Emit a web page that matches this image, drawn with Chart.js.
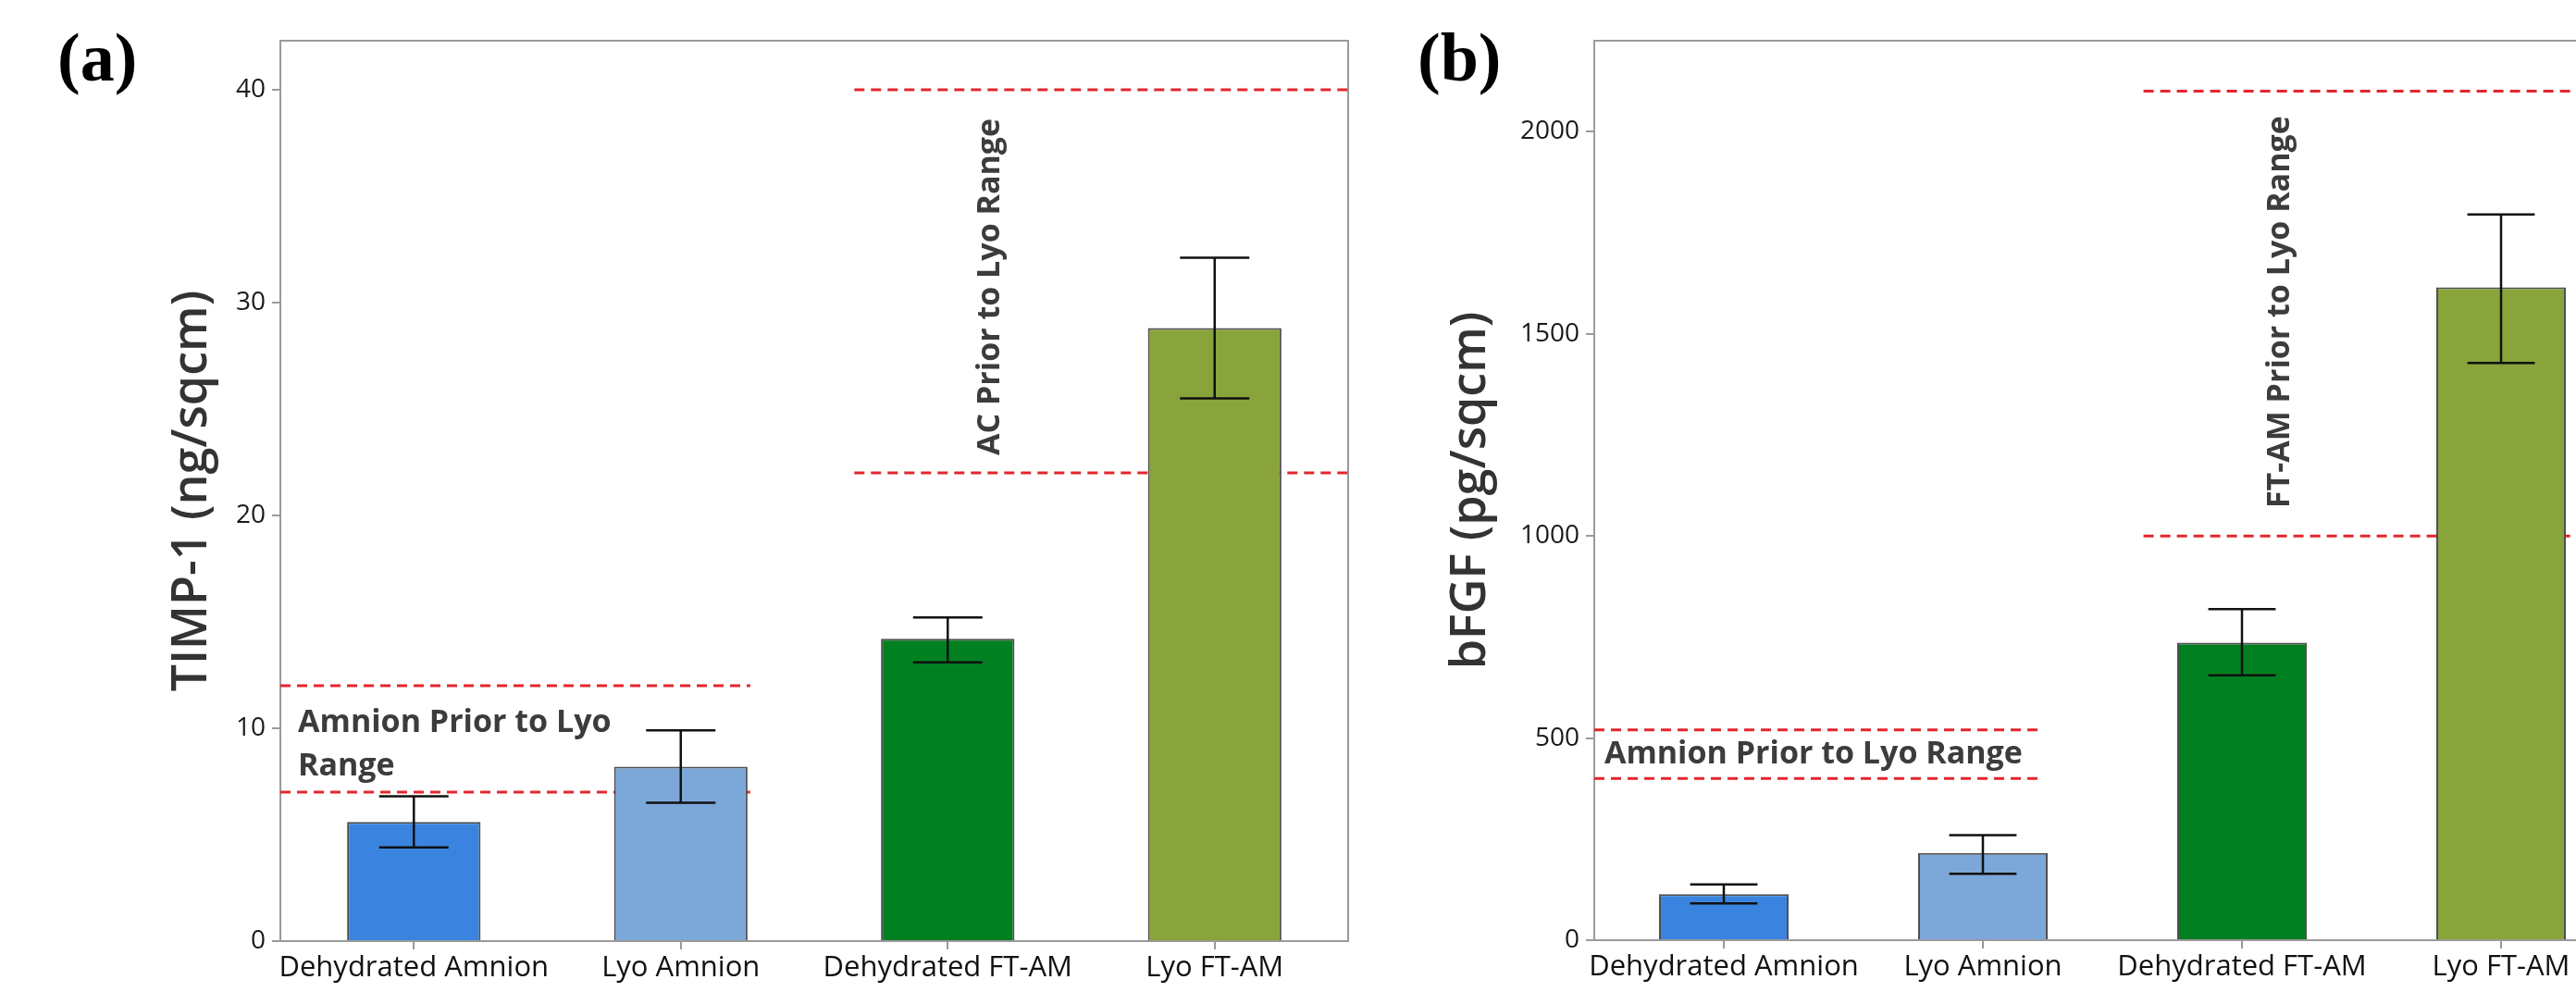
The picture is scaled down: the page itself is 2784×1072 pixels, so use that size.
<!DOCTYPE html>
<html>
<head>
<meta charset="utf-8">
<script src="https://cdn.jsdelivr.net/npm/chart.js@4.4.1/dist/chart.umd.min.js"></script>
<style>
  html, body { margin: 0; padding: 0; background: #fff; overflow: hidden; width: 2784px; height: 1072px; }
  canvas { position: absolute; top: 0; }
  #chartA { left: 0; }
  #chartB { left: 1500px; }
  .panel { position: absolute; font-family: 'Liberation Serif', 'Times New Roman', serif; font-weight: bold; font-size: 74px; line-height: 74px; color: #000; }
</style>
</head>
<body>
<div class="panel" style="left:62px; top:25px;">(a)</div>
<div class="panel" style="left:1532px; top:25px;">(b)</div>
<canvas id="chartA" width="1480" height="1072"></canvas>
<canvas id="chartB" width="1400" height="1072"></canvas>
<script>
// ── Data ──
const CATEGORIES = ['Dehydrated Amnion', 'Lyo Amnion', 'Dehydrated FT-AM', 'Lyo FT-AM'];
const BAR_COLORS = ['#3a84e0', '#7ca7d9', '#008020', '#88a43a'];

// (a) TIMP-1, ng/sqcm
const TIMP_MEAN = [5.6, 8.2, 14.2, 28.8];
const TIMP_LOW = [4.4, 6.5, 13.1, 25.5];
const TIMP_HIGH = [6.8, 9.9, 15.2, 32.1];
const TIMP_TICKS = [0, 10, 20, 30, 40];
const TIMP_AMNION_RANGE = [7, 12];
const TIMP_AC_RANGE = [22, 40];

// (b) bFGF, pg/sqcm
const BFGF_MEAN = [114, 216, 736, 1615];
const BFGF_LOW = [91, 164, 655, 1428];
const BFGF_HIGH = [138, 260, 819, 1795];
const BFGF_TICKS = [0, 500, 1000, 1500, 2000];
const BFGF_AMNION_RANGE = [400, 520];
const BFGF_FTAM_RANGE = [1000, 2100];

const AXIS_GREY = '#9a9a9a';
const RANGE_RED = '#e3262d';
const FONT = "'Open Sans', 'Noto Sans', sans-serif";

// ── Plugins ──
const framePlugin = {
  id: 'frame',
  beforeDatasetsDraw(chart) {
    const { ctx, chartArea: { left, top, right, bottom } } = chart;
    ctx.save();
    ctx.strokeStyle = AXIS_GREY;
    ctx.lineWidth = 2;
    ctx.strokeRect(left, top, right - left, bottom - top);
    ctx.restore();
  },
};

const errorBarPlugin = {
  id: 'errorBars',
  afterDatasetsDraw(chart, args, opts) {
    const { ctx } = chart;
    const meta = chart.getDatasetMeta(0);
    const y = chart.scales.y;
    ctx.save();
    ctx.strokeStyle = '#111';
    ctx.lineWidth = 2.5;
    meta.data.forEach((bar, i) => {
      const half = bar.width * opts.cap / 2;
      const yl = y.getPixelForValue(opts.low[i]);
      const yh = y.getPixelForValue(opts.high[i]);
      ctx.beginPath();
      ctx.moveTo(bar.x, yl); ctx.lineTo(bar.x, yh);
      ctx.moveTo(bar.x - half, yl); ctx.lineTo(bar.x + half, yl);
      ctx.moveTo(bar.x - half, yh); ctx.lineTo(bar.x + half, yh);
      ctx.stroke();
    });
    ctx.restore();
  },
};

const rangeLabelPlugin = {
  id: 'rangeLabels',
  afterDatasetsDraw(chart, args, opts) {
    const { ctx } = chart;
    for (const a of opts.items) {
      const x = chart.scales.xr.getPixelForValue(a.x);
      const y = chart.scales.y.getPixelForValue(a.y);
      ctx.save();
      ctx.translate(x, y);
      if (a.vertical) ctx.rotate(-Math.PI / 2);
      ctx.font = `bold 34px ${FONT}`;
      ctx.fillStyle = '#3c3c3c';
      ctx.textAlign = a.align;
      ctx.textBaseline = 'middle';
      a.lines.forEach((t, k) => ctx.fillText(t, 0, k * 47));
      ctx.restore();
    }
  },
};

// ── Helpers ──
function rangeLine(y, x0, x1) {
  return {
    type: 'line', xAxisID: 'xr', order: 2,
    data: [{ x: x0, y }, { x: x1, y }],
    borderColor: RANGE_RED, borderWidth: 3, borderDash: [11, 7],
    pointRadius: 0, fill: false,
  };
}

function makeChart(id, cfg) {
  return new Chart(document.getElementById(id), {
    type: 'bar',
    data: {
      labels: CATEGORIES,
      datasets: [
        {
          type: 'bar', order: 1, data: cfg.mean, grouped: false,
          backgroundColor: BAR_COLORS, borderColor: '#505050', borderWidth: 2,
          categoryPercentage: 1, barPercentage: 0.5,
        },
        ...cfg.lines,
      ],
    },
    options: {
      responsive: false, animation: false,
      layout: { padding: { top: 44, left: 0, right: cfg.padRight, bottom: 0 } },
      plugins: {
        legend: { display: false }, tooltip: { enabled: false },
        errorBars: { low: cfg.low, high: cfg.high, cap: 0.52 },
        rangeLabels: { items: cfg.labels },
      },
      scales: {
        x: {
          offset: true,
          grid: { drawOnChartArea: false, drawTicks: true, tickLength: 9, color: AXIS_GREY, lineWidth: 2, offset: false },
          border: { display: true, color: AXIS_GREY, width: 2 },
          ticks: { color: '#111', font: { family: FONT, size: 31 }, padding: 2, maxRotation: 0, autoSkip: false },
          afterFit: s => { s.height = cfg.xHeight; },
        },
        xr: { type: 'linear', display: false, offset: false, min: -0.5, max: 3.5, grid: { offset: false } },
        y: {
          min: 0, max: cfg.max,
          afterBuildTicks: s => { s.ticks = cfg.ticks.map(v => ({ value: v })); },
          grid: { drawOnChartArea: false, drawTicks: true, tickLength: 9, color: AXIS_GREY, lineWidth: 2 },
          border: { display: true, color: AXIS_GREY, width: 2 },
          ticks: { color: '#1a1a1a', font: { family: FONT, size: 28 }, padding: 7, callback: v => String(v) },
          title: {
            display: true, text: cfg.title, color: '#333',
            font: { family: FONT, size: 52, weight: 600 },
            padding: { top: cfg.titlePad, bottom: 0 },
          },
          afterFit: s => { s.width = cfg.yWidth; },
        },
      },
    },
    plugins: [framePlugin, errorBarPlugin, rangeLabelPlugin],
  });
}

// ── (a) TIMP-1 ──
makeChart('chartA', {
  mean: TIMP_MEAN, low: TIMP_LOW, high: TIMP_HIGH, ticks: TIMP_TICKS,
  max: 42.3, title: 'TIMP-1 (ng/sqcm)', titlePad: 177, yWidth: 303, xHeight: 55, padRight: 23,
  lines: [
    rangeLine(TIMP_AMNION_RANGE[0], -0.5, 1.26),
    rangeLine(TIMP_AMNION_RANGE[1], -0.5, 1.26),
    rangeLine(TIMP_AC_RANGE[0], 1.65, 3.5),
    rangeLine(TIMP_AC_RANGE[1], 1.65, 3.5),
  ],
  labels: [
    { lines: ['Amnion Prior to Lyo', 'Range'], x: -0.434, y: 10.26, align: 'left' },
    { lines: ['AC Prior to Lyo Range'], x: 2.159, y: 30.74, align: 'center', vertical: true },
  ],
});

// ── (b) bFGF ──
makeChart('chartB', {
  mean: BFGF_MEAN, low: BFGF_LOW, high: BFGF_HIGH, ticks: BFGF_TICKS,
  max: 2225, title: 'bFGF (pg/sqcm)', titlePad: 59, yWidth: 223, xHeight: 56, padRight: 57,
  lines: [
    rangeLine(BFGF_AMNION_RANGE[0], -0.5, 1.23),
    rangeLine(BFGF_AMNION_RANGE[1], -0.5, 1.23),
    rangeLine(BFGF_FTAM_RANGE[0], 1.62, 3.5),
    rangeLine(BFGF_FTAM_RANGE[1], 1.62, 3.5),
  ],
  labels: [
    { lines: ['Amnion Prior to Lyo Range'], x: -0.461, y: 460, align: 'left' },
    { lines: ['FT-AM Prior to Lyo Range'], x: 2.146, y: 1554, align: 'center', vertical: true },
  ],
});
</script>
</body>
</html>
